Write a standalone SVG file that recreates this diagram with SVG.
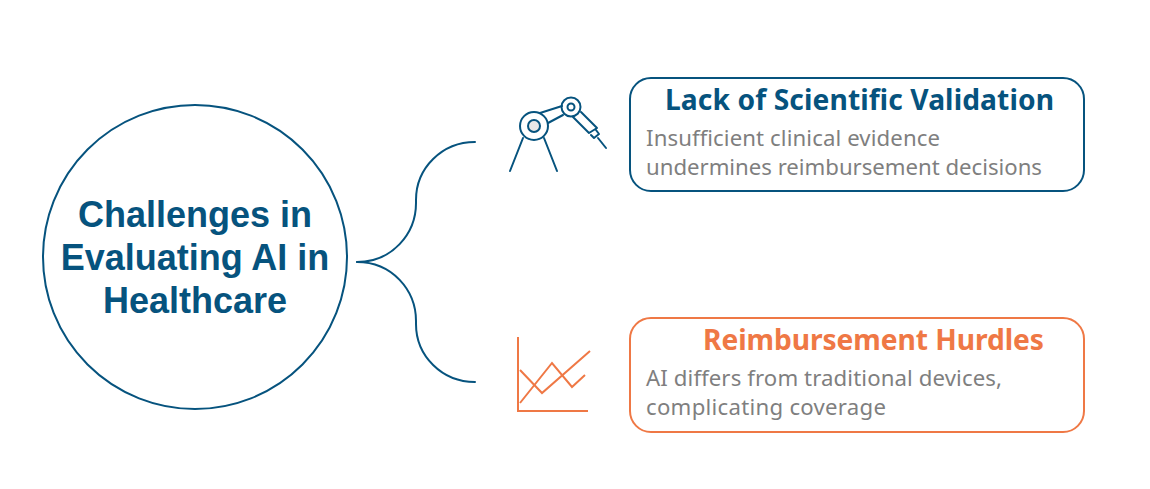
<svg xmlns="http://www.w3.org/2000/svg" width="1150" height="489" viewBox="0 0 1150 489">
<style>
.blue{fill:none;stroke:#06537e;stroke-width:2;stroke-linecap:round;stroke-linejoin:round}
.orange{fill:none;stroke:#ef7845;stroke-width:2}
.hub{font:bold 36px "Liberation Sans",Arial,sans-serif;fill:#06537e;text-anchor:middle}
.h{font:700 28.2px "Noto Sans","Open Sans",sans-serif}
.b{font:22.2px "Noto Sans","Open Sans",sans-serif;fill:#7f7f7f}
</style>
<rect width="1150" height="489" fill="#fff"/>
<g id="connectors">
<path class="blue" d="M357 262C392 262 416 234 416 203V200C416 168 442 142 475 142"/>
<path class="blue" d="M357 262C392 262 416 290 416 321V324C416 356 442 382 475 382"/>
</g>
<g id="hub">
<circle cx="195" cy="257" r="152" fill="#fff" stroke="#06537e" stroke-width="2"/>
<text class="hub" x="195" y="227">Challenges in</text>
<text class="hub" x="195" y="270">Evaluating AI in</text>
<text class="hub" x="195" y="313">Healthcare</text>
</g>
<g id="icon-robot">
<circle class="blue" cx="534" cy="126" r="14"/>
<circle cx="534" cy="126" r="6" fill="#e7e7e7" stroke="#06537e" stroke-width="2"/>
<circle class="blue" cx="571" cy="107" r="9.5"/>
<circle class="blue" cx="571" cy="107" r="3.5"/>
<path class="blue" d="M540 113L562 106M548 123L563 115M523 138L510 171M544 138L557 171M573 117L589 133L597 128L581 112M591 135L594 138L599 134L596 130M598 138L606 148"/>
</g>
<g id="icon-chart">
<path class="orange" d="M518 337V411H588"/>
<path class="orange" d="M520 403L552 363L572 387L585 375"/>
<path class="orange" d="M520 370L542 393L590 351"/>
</g>
<g id="card-validation">
<rect x="630" y="78" width="454" height="113" rx="21" fill="#fff" stroke="#06537e" stroke-width="2"/>
<text class="h" x="665" y="110" fill="#06537e" textLength="389">Lack of Scientific Validation</text>
<text class="b" x="646" y="146" textLength="294">Insufficient clinical evidence</text>
<text class="b" x="646" y="175" textLength="396">undermines reimbursement decisions</text>
</g>
<g id="card-reimbursement">
<rect x="630" y="318" width="454" height="114" rx="21" fill="#fff" stroke="#ef7845" stroke-width="2"/>
<text class="h" x="703" y="350" fill="#ef7845" textLength="341">Reimbursement Hurdles</text>
<text class="b" x="646" y="386" textLength="356">AI differs from traditional devices,</text>
<text class="b" x="646" y="415" textLength="240">complicating coverage</text>
</g>
</svg>
